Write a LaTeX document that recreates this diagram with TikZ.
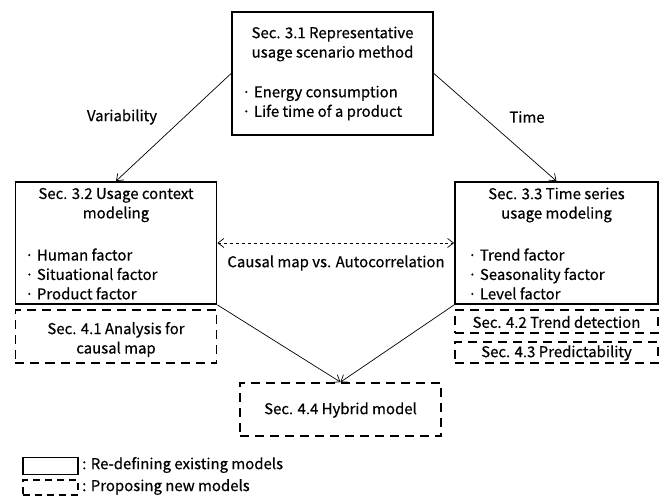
\documentclass[tikz,border=0pt]{standalone}
\usepackage{fontspec}
\setmainfont{Noto Sans CJK KR}[FakeBold=0.5]
\usetikzlibrary{arrows.meta}
\begin{document}
\begin{tikzpicture}[x=1bp,y=-1bp,oldmodel/.style={draw,line width=1.8bp,minimum width=201bp,inner sep=0pt},newmodel/.style={draw,line width=1.8bp,dash pattern=on 9bp off 6bp,minimum width=201bp,inner sep=0pt},link/.style={line width=0.7bp,-{Straight Barb[length=6bp,width=9bp]}},txt/.style={font=\fontsize{15}{19.5}\selectfont,inner sep=0pt}]
\useasboundingbox (0,0) rectangle (668,497);
\coordinate (S31) at (332.5,73.5);
\coordinate (S32) at (116,243);
\coordinate (S33) at (556.5,243);
\coordinate (S41) at (116,336.5);
\coordinate (S42) at (556.5,321.5);
\coordinate (S43) at (556.5,352.5);
\coordinate (S44) at (340.5,409.5);
\node[oldmodel,minimum height=123bp] (sec31) at (S31) {};
\node[txt,align=center] (t31) at (332.5,44) {Sec. 3.1 Representative\\usage scenario method};
\node[txt,align=left,anchor=west] (b31) at (242,103) {· Energy consumption\\· Life time of a product};
\node[oldmodel,minimum height=122bp] (sec32) at (S32) {};
\node[txt,align=center] (t32) at (116,205) {Sec. 3.2 Usage context\\modeling};
\node[txt,align=left,anchor=west] (b32) at (25,274) {· Human factor\\· Situational factor\\· Product factor};
\node[oldmodel,minimum height=122bp,minimum width=203bp] (sec33) at (S33) {};
\node[txt,align=center] (t33) at (556.5,205) {Sec. 3.3 Time series\\usage modeling};
\node[txt,align=left,anchor=west] (b33) at (468,274) {· Trend factor\\· Seasonality factor\\· Level factor};
\node[newmodel,minimum height=53bp] (sec41) at (S41) {};
\node[txt,align=center] (t41) at (116,339.5) {Sec. 4.1 Analysis for\\causal map};
\node[newmodel,minimum height=23bp,minimum width=203bp] (sec42) at (S42) {};
\node[txt] (t42) at (556.5,322) {Sec. 4.2 Trend detection};
\node[newmodel,minimum height=21bp,minimum width=203bp] (sec43) at (S43) {};
\node[txt] (t43) at (556.5,353) {Sec. 4.3 Predictability};
\node[newmodel,minimum height=53bp] (sec44) at (S44) {};
\node[txt] (t44) at (340.5,410) {Sec. 4.4 Hybrid model};
\draw[link] (sec31.west) -- (sec32.north);
\draw[link] (sec31.east) -- (sec33.north);
\draw[link,dashed,{Straight Barb[length=6bp,width=9bp]}-{Straight Barb[length=6bp,width=9bp]}] (sec32.east) -- (sec33.west);
\draw[link] (sec32.south east) -- (sec44.north);
\draw[link] (sec33.south west) -- (sec44.north);
\node[txt] (variability) at (122,117) {Variability};
\node[txt] (time) at (527,117) {Time};
\node[txt] (causal) at (336,263) {Causal map vs. Autocorrelation};
\node[oldmodel,minimum width=55bp,minimum height=17bp] (keyold) at (50.5,466) {};
\node[txt,anchor=west] (keyoldtext) at (82,465) {: Re-defining existing models};
\node[newmodel,minimum width=55bp,minimum height=15bp,dash pattern=on 7bp off 5bp] (keynew) at (50.5,487.5) {};
\node[txt,anchor=west] (keynewtext) at (82,487) {: Proposing new models};
\end{tikzpicture}
\end{document}
